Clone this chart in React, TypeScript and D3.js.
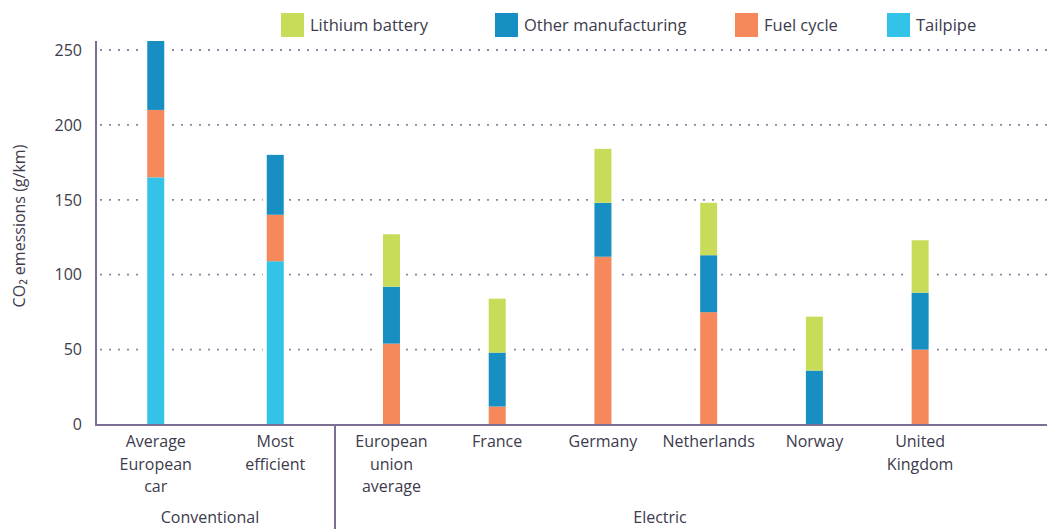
import * as d3 from "d3"

const conventional = ["Average European car", "Most efficient"]
const electric = ["European union average", "France", "Germany", "Netherlands", "Norway", "United Kingdom"]
const categories = [...conventional, ...electric]

const labelLines: string[][] = [
  ["Average", "European", "car"],
  ["Most", "efficient"],
  ["European", "union", "average"],
  ["France"],
  ["Germany"],
  ["Netherlands"],
  ["Norway"],
  ["United", "Kingdom"],
]

const tailpipe = [165, 109, 0, 0, 0, 0, 0, 0]
const fuelCycle = [45, 31, 54, 12, 112, 75, 0, 50]
const otherManufacturing = [46, 40, 38, 36, 36, 38, 36, 38]
const lithiumBattery = [0, 0, 35, 36, 36, 35, 36, 35]

const yTicks = [0, 50, 100, 150, 200, 250]

const keys = ["tailpipe", "fuel", "other", "lithium"]
const colors: Record<string, string> = {
  lithium: "#c8dc5a",
  other: "#178fc3",
  fuel: "#f5895c",
  tailpipe: "#33c3e8",
}
const legend = [
  { key: "lithium", label: "Lithium battery", x: 281 },
  { key: "other", label: "Other manufacturing", x: 495 },
  { key: "fuel", label: "Fuel cycle", x: 735 },
  { key: "tailpipe", label: "Tailpipe", x: 887 },
]

const W = 1047
const H = 529
const axisColor = "#7d6e96"
const textColor = "#3d3b4c"
const font = "'Open Sans', 'Noto Sans', sans-serif"

export default function App() {
  const rows = categories.map((c, i) => ({
    name: c,
    tailpipe: tailpipe[i],
    fuel: fuelCycle[i],
    other: otherManufacturing[i],
    lithium: lithiumBattery[i],
  }))
  const series = d3.stack<any>().keys(keys)(rows)

  const left = 96
  const divider = 335
  const y = d3.scaleLinear().domain([0, 250]).range([424.5, 50])
  const xConv = d3.scaleBand().domain(conventional).range([left, divider]).padding(0)
  const xElec = d3.scaleBand().domain(electric).range([338.6, 973]).padding(0)
  const center = (name: string) =>
    conventional.includes(name)
      ? (xConv(name) as number) + xConv.bandwidth() / 2
      : (xElec(name) as number) + xElec.bandwidth() / 2
  const barW = 17

  return (
    <svg
      width={W}
      height={H}
      style={{ position: "absolute", left: 0, top: 0, background: "#fff" }}
      fontFamily={font}
    >
      {/* grid */}
      {yTicks
        .filter((t) => t > 0)
        .map((t) => (
          <line
            key={t}
            x1={left + 4}
            x2={W}
            y1={y(t)}
            y2={y(t)}
            stroke="#8f84a6"
            strokeWidth={1.8}
            strokeDasharray="2,7"
          />
        ))}

      {/* white halo behind bars */}
      {categories.map((c, i) => {
        const top = y(tailpipe[i] + fuelCycle[i] + otherManufacturing[i] + lithiumBattery[i])
        return (
          <rect key={c} x={center(c) - barW / 2 - 4} y={top} width={barW + 8} height={y(0) - top} fill="#fff" />
        )
      })}

      {series.map((s) =>
        s.map((d, i) =>
          d[1] - d[0] > 0 ? (
            <rect
              key={s.key + i}
              x={center(categories[i]) - barW / 2}
              y={y(d[1])}
              width={barW}
              height={y(d[0]) - y(d[1])}
              fill={colors[s.key]}
            />
          ) : null
        )
      )}

      {/* axes */}
      <line x1={left} x2={left} y1={41} y2={425.5} stroke={axisColor} strokeWidth={2} />
      <line x1={left - 1} x2={W} y1={425} y2={425} stroke={axisColor} strokeWidth={2} />
      <line x1={divider} x2={divider} y1={425} y2={H} stroke={axisColor} strokeWidth={2} />

      {yTicks.map((t) => (
        <text key={t} x={82} y={y(t)} dy="0.36em" textAnchor="end" fontSize={16} fill={textColor}>
          {t}
        </text>
      ))}

      <text
        transform={`translate(25,${226}) rotate(-90)`}
        textAnchor="middle"
        fontSize={16}
        fill={textColor}
      >
        CO₂ emessions (g/km)
      </text>

      {categories.map((c, i) => (
        <text key={c} x={center(c)} textAnchor="middle" fontSize={16} fill={textColor}>
          {labelLines[i].map((l, j) => (
            <tspan key={j} x={center(c)} y={447 + j * 22.5}>
              {l}
            </tspan>
          ))}
        </text>
      ))}

      <text x={210} y={523} textAnchor="middle" fontSize={16} fill={textColor}>
        Conventional
      </text>
      <text x={660} y={523} textAnchor="middle" fontSize={16} fill={textColor}>
        Electric
      </text>

      {legend.map((l) => (
        <g key={l.key}>
          <rect x={l.x} y={13} width={23} height={24} fill={colors[l.key]} />
          <text x={l.x + 29} y={25} dy="0.36em" fontSize={16.5} fill={textColor}>
            {l.label}
          </text>
        </g>
      ))}
    </svg>
  )
}
